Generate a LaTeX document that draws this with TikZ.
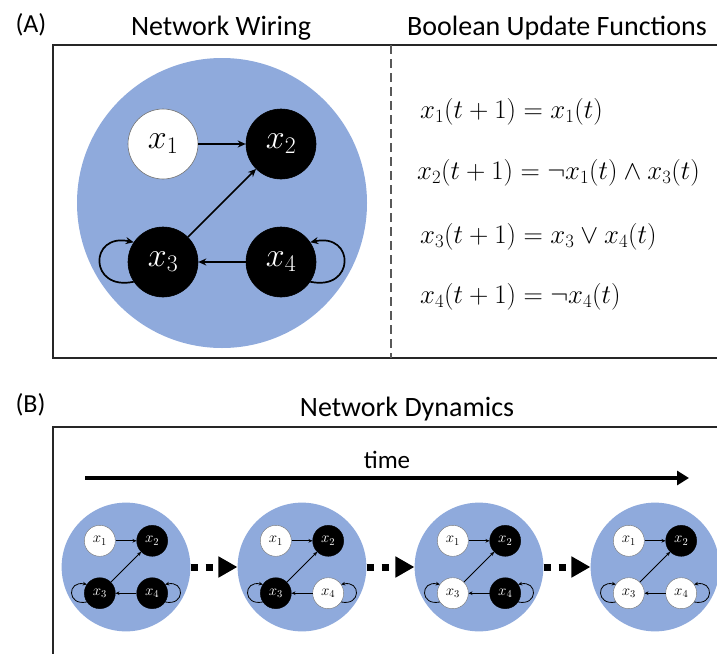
\RequirePackage{fix-cm}
\documentclass[tikz,border=0pt]{standalone}
\usepackage{fontspec}
\newfontfamily\calib{Carlito}
\usetikzlibrary{arrows.meta}
\definecolor{blobblue}{HTML}{8FAADC}
\tikzset{
  blob/.style={circle, fill=blobblue, inner sep=0pt},
  stw/.style={fill=white, draw=black!55, text=black},
  stb/.style={fill=black, draw=black, text=white},
  bigsz/.style={
    nd/.style={circle, inner sep=0pt, minimum size=70pt, line width=0.6pt, font=\fontsize{34}{34}\selectfont},
    ed/.style={line width=1.7pt, -{Stealth[length=8pt, width=7pt]}}},
  smallsz/.style={
    nd/.style={circle, inner sep=0pt, minimum size=31pt, line width=0.4pt, font=\fontsize{15}{15}\selectfont},
    ed/.style={line width=0.8pt, -{Stealth[length=4pt, width=3.6pt]}}},
  frame/.style={line width=1.5pt, draw=black!85},
  divider/.style={line width=1.2pt, draw=black!65, dash pattern=on 9pt off 5pt},
  title/.style={font=\calib\fontsize{28}{32}\selectfont, anchor=base},
  panel/.style={font=\calib\fontsize{26}{30}\selectfont, anchor=base west},
  eq/.style={font=\fontsize{26.8}{30}\selectfont, anchor=west, inner sep=0pt},
  timearrow/.style={line width=4.5pt, -{Triangle[length=12pt, width=14pt]}},
  dotarrow/.style={line width=7pt, dash pattern=on 7pt off 8pt, -{Triangle[length=19pt, width=20pt]}},
}
% #1 prefix, #2 cx, #3 cy, #4 scale, #5-#8 node states
\newcommand\bnet[8]{%
  \begin{scope}[shift={(#2,#3)}]
    \node[blob, minimum size=#4*290pt] (#1c) at (0,0) {};
    \node[nd,#5] (#11) at (-59*#4, 59*#4) {$x_1$};
    \node[nd,#6] (#12) at (59*#4, 59*#4) {$x_2$};
    \node[nd,#7] (#13) at (-59*#4, -59*#4) {$x_3$};
    \node[nd,#8] (#14) at (59*#4, -59*#4) {$x_4$};
    \draw[ed] (#11) -- (#12);
    \draw[ed] (#13) -- (#12);
    \draw[ed] (#14) -- (#13);
    \draw[ed] (#13.214) .. controls +(192:46*#4) and +(168:46*#4) .. (#13.146);
    \draw[ed] (#14.-34) .. controls +(-12:46*#4) and +(12:46*#4) .. (#14.34);
  \end{scope}}
\begin{document}
\begin{tikzpicture}[x=1pt, y=1pt]
  \useasboundingbox (0,0) rectangle (717,-653);
  % panel frames
  \draw[frame] (722,-45) -- (53,-45) -- (53,-358) -- (722,-358);
  \draw[divider] (391,-45) -- (391,-358);
  \draw[frame] (722,-427) -- (53,-427) -- (53,-660);
  % labels
  \node[panel] (lA) at (12,-32) {(A)};
  \node[panel] (lB) at (12,-412) {(B)};
  \node[title] (tW) at (221,-35) {Network Wiring};
  \node[title] (tB) at (557,-35) {Boolean Update Functions};
  \node[title] (tD) at (407,-416) {Network Dynamics};
  % big network
  \begin{scope}[bigsz]
    \bnet{A}{222}{-203}{1}{stw}{stb}{stb}{stb}
  \end{scope}
  % equations
  \node[eq] (e1) at (420,-112) {$x_1(t+1) = x_1(t)$};
  \node[eq] (e2) at (417,-173) {$x_2(t+1) = \neg x_1(t) \wedge x_3(t)$};
  \node[eq] (e3) at (420,-237) {$x_3(t+1) = x_3 \vee x_4(t)$};
  \node[eq] (e4) at (420,-297) {$x_4(t+1) = \neg x_4(t)$};
  % time arrow
  \node[font=\calib\fontsize{25}{30}\selectfont, anchor=base] (time) at (387,-468) {time};
  \coordinate (t0) at (85,-478);
  \coordinate (t1) at (689,-478);
  \draw[timearrow] (t0) -- (t1);
  % dynamics
  \begin{scope}[smallsz]
    \bnet{S1}{126}{-567}{0.444}{stw}{stb}{stb}{stb}
    \bnet{S2}{302}{-567}{0.444}{stw}{stb}{stb}{stw}
    \bnet{S3}{479}{-567}{0.444}{stw}{stb}{stw}{stb}
    \bnet{S4}{655}{-567}{0.444}{stw}{stb}{stw}{stw}
  \end{scope}
  \draw[dotarrow] (S1c.east) -- (S2c.west);
  \draw[dotarrow] (S2c.east) -- (S3c.west);
  \draw[dotarrow] (S3c.east) -- (S4c.west);
\end{tikzpicture}
\end{document}
